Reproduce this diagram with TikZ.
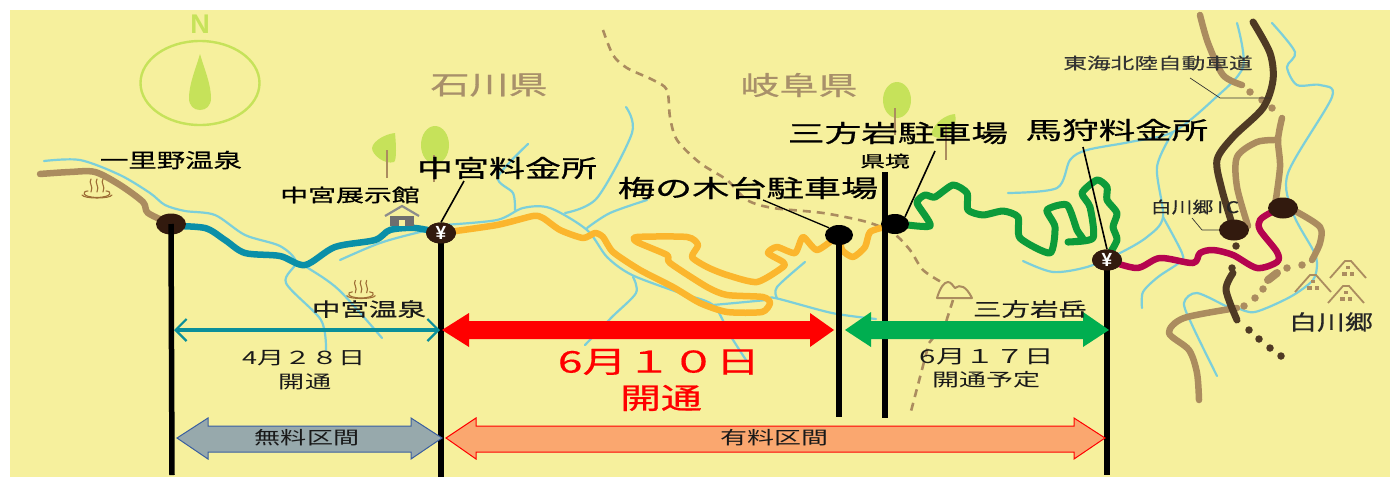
\documentclass[tikz,border=0pt]{standalone}
\usepackage{fontspec}
\setmainfont{Noto Sans CJK JP}
\newfontfamily\latinf{Liberation Sans}
\newfontfamily\medf[FakeBold=0.35]{Noto Sans CJK JP}
\newfontfamily\semif[FakeBold=0.7]{Noto Sans CJK JP}
\usetikzlibrary{arrows.meta,shapes.geometric}
\definecolor{bgy}{HTML}{F6F09D}
\definecolor{leaf}{HTML}{C6E25A}
\definecolor{river}{HTML}{7CCFDA}
\definecolor{lbrown}{HTML}{AB8C5F}
\definecolor{dbrown}{HTML}{4F3A24}
\definecolor{tealr}{HTML}{0A8FA8}
\definecolor{oranger}{HTML}{FBB62D}
\definecolor{greenr}{HTML}{0D9B3A}
\definecolor{crimr}{HTML}{B5044F}
\definecolor{stopc}{HTML}{321A0E}
\definecolor{prefc}{HTML}{A8906A}
\definecolor{tealarrow}{HTML}{0B8F9A}
\definecolor{greena}{HTML}{00AE50}
\definecolor{freef}{HTML}{97A9AC}
\definecolor{freed}{HTML}{3A5FA0}
\definecolor{tollf}{HTML}{FAA76F}
\newcommand{\jt}[3]{\scalebox{#1}[1]{\fontsize{#2}{#2}\selectfont #3}}
\tikzset{
  riverl/.style={draw=river,line width=2.2pt,line cap=round,line join=round},
  road/.style={line width=#1,line cap=round,line join=round},
  road/.default=6.5pt,
  lb/.style={inner sep=0pt,outer sep=0pt,text=black},
  stopn/.style={ellipse,fill=stopc,minimum width=30pt,minimum height=21pt,inner sep=0pt},
  blackn/.style={ellipse,fill=black,minimum width=28pt,minimum height=20pt,inner sep=0pt},
  post/.style={line width=5.5pt,black},
  leader/.style={black,line width=1.6pt},
  thinlead/.style={black!80,line width=0.7pt},
  dotb/.style={circle,inner sep=0pt,minimum size=#1},
  crown/.style={fill=leaf,draw=none},
  trunk/.style={draw=lbrown,line width=1.5pt},
  hs/.style={draw=lbrown!70!orange!80!black,line width=1.1pt,line cap=round,fill=none},
  gassho/.style={draw=lbrown,line width=1.8pt,line join=miter}
}
\newcommand{\onsen}[3]{%
\begin{scope}[shift={(#1,#2)},scale=#3]
 \draw[hs] (-9,3) .. controls (-15,3) and (-16,9) .. (0,9.5) .. controls (16,9) and (15,3) .. (9,3);
 \draw[hs] (-15,7) .. controls (-13,11) and (13,11) .. (15,7);
 \foreach \q in {-6,0,6}{\draw[hs] (\q,-9) .. controls (\q-3,-5) and (\q+3,-2) .. (\q,4);}
\end{scope}}
\newcommand{\gasshohouse}[3]{%
\begin{scope}[shift={(#1,#2)},scale=#3]
 \draw[gassho] (-18,17) -- (-3,0) -- (3,0) -- (18,17);
 \fill[lbrown] (-2,5) rectangle (2,8);
 \fill[lbrown] (-6,11) rectangle (-1.5,15);
 \fill[lbrown] (1.5,11) rectangle (6,15);
\end{scope}}
\begin{document}
\begin{tikzpicture}[x=1pt,y=-1pt]
\useasboundingbox (0,0) rectangle (1390,477);
\fill[white] (0,0) rectangle (1390,477);
\fill[bgy] (10,10) rectangle (1390,477);

% compass
\node[ellipse,draw=leaf,line width=2.4pt,minimum width=119pt,minimum height=84pt,inner sep=0pt] (compass) at (200,83) {};
\fill[leaf] (200,54) .. controls (204,68) and (211,84) .. (211,98) .. controls (211,106) and (206,110) .. (200,110) .. controls (194,110) and (189,106) .. (189,98) .. controls (189,84) and (196,68) .. (200,54) -- cycle;
\node[lb,text=leaf] (north) at (200,24) {\latinf\bfseries\fontsize{27}{27}\selectfont N};

% rivers
\draw[riverl] plot[smooth,tension=.5] coordinates {(44,161)(80,160)(120,175)(150,193)(165,205)(185,211)(215,215)(245,235)(280,246)(296,262)(286,283)(321,320)(326,350)};
\draw[riverl] plot[smooth,tension=.5] coordinates {(296,262)(308,268)(339,290)(382,338)};
\draw[riverl] plot[smooth,tension=.5] coordinates {(340,260)(380,243)(420,232)(441,228)};
\draw[riverl] plot[smooth,tension=.5] coordinates {(443,225)(497,220)(523,208)(550,208)(587,230)(607,257)(632,275)(680,293)(713,305)(730,335)(746,360)};
\draw[riverl] plot[smooth,tension=.5] coordinates {(515,210)(513,193)(498,177)(528,144)};
\draw[riverl] plot[smooth,tension=.5] coordinates {(565,213)(597,198)(632,133)(626,107)};
\draw[riverl] plot[smooth,tension=.5] coordinates {(587,228)(610,213)(647,200)};
\draw[riverl] plot[smooth,tension=.5] coordinates {(633,277)(636,293)(612,317)(585,345)};
\draw[riverl] plot[smooth,tension=.5] coordinates {(713,305)(766,300)(775,298)(832,313)(876,319)};
\draw[riverl] plot[smooth,tension=.5] coordinates {(805,262)(777,287)(777,298)};
\draw[riverl] plot[smooth,tension=.5] coordinates {(1008,193)(1057,188)(1070,160)(1087,150)(1130,142)(1173,132)(1213,100)(1243,67)(1237,23)};
\draw[riverl] plot[smooth,tension=.5] coordinates {(1023,261)(1053,272)(1087,267)(1120,253)(1147,237)(1163,217)(1157,167)(1173,132)};
\draw[riverl] plot[smooth,tension=.5] coordinates {(1163,217)(1182,253)(1180,262)(1158,277)(1143,292)(1142,308)};
\draw[riverl] plot[smooth,tension=.5] coordinates {(1272,23)(1295,52)(1287,67)(1297,85)(1320,85)(1332,97)(1288,173)(1293,213)(1313,250)(1317,263)(1313,280)(1290,297)(1255,312)(1237,308)(1228,307)(1197,293)(1184,303)(1193,327)(1217,376)};

% prefecture border
\draw[lbrown,line width=2.6pt,dash pattern=on 8pt off 6pt] plot[smooth,tension=.5] coordinates {(603,30)(613,55)(627,68)(653,80)(667,90)(670,117)(677,140)(700,163)(727,180)(747,200)(773,208)(823,213)(867,222)(893,233)(910,250)(923,270)(943,283)};
\draw[lbrown,line width=2.6pt,dash pattern=on 8pt off 6pt] (953,300) -- (946,322) -- (929,343) -- (910,415);

% mountain
\draw[lbrown,line width=2pt,line join=round] (937,298) .. controls (940,288) and (944,282) .. (948,282) .. controls (951,282) and (953,286) .. (955,288) .. controls (960,284) and (966,286) .. (972,298) -- cycle;

% light brown roads
\draw[lbrown,road] plot[smooth,tension=.5] coordinates {(40,174)(70,172)(95,172)(120,185)(143,202)(148,213)(171,224)};
\draw[lbrown,road] plot[smooth,tension=.5] coordinates {(1200,15)(1208,43)(1223,75)(1242,85)};
\draw[lbrown,road] plot[smooth,tension=.5] coordinates {(1282,118)(1278,140)(1280,167)(1275,205)};
\draw[lbrown,road] plot[smooth,tension=.5] coordinates {(1278,140)(1257,142)(1237,157)(1237,187)(1248,226)};
\draw[lbrown,road] plot[smooth,tension=.5] coordinates {(1297,212)(1320,227)(1320,243)(1312,260)};
\draw[lbrown,road] plot[smooth,tension=.5] coordinates {(1237,308)(1184,318)(1169,333)(1189,350)(1197,373)(1199,400)};
\draw[lbrown,road=8pt] (1277,273) -- (1268,280);
\foreach \dx/\dy/\dn in {1250/92/a,1262/100/b,1272/108/c,1302/265/d,1287/268/e,1263/289/f,1255/298/g,1244/306/h}{
  \node[dotb=7.5pt,fill=lbrown] (ld\dn) at (\dx,\dy) {};}

% dark highway
\draw[dbrown,road=7pt] plot[smooth,tension=.5] coordinates {(1253,22)(1270,53)(1273,80)(1263,108)(1233,137)(1217,160)(1222,190)(1233,227)};
\draw[dbrown,road=7pt] plot[smooth,tension=.5] coordinates {(1233,273)(1226,290)(1237,320)};
\foreach \dx/\dy/\dn in {1236/246/a,1232/268/b,1249/330/c,1259/339/d,1270/348/e,1281/356/f}{
  \node[dotb=7.5pt,fill=dbrown] (dd\dn) at (\dx,\dy) {};}

% coloured sections
\draw[tealr,road] plot[smooth,tension=.5] coordinates {(171,226)(205,228)(225,240)(245,253)(280,256)(305,265)(335,247)(375,240)(390,230)(415,228)(441,233)};
\draw[oranger,road] plot[smooth,tension=.4] coordinates {(441,233)(497,225)(533,216)(543,218)(560,230)(583,238)(595,233)(603,237)(613,252)(640,270)(673,287)(700,303)(727,312)(762,312)(770,303)(763,297)(727,295)(707,287)(670,263)(667,255)(637,242)(637,237)(687,237)(698,245)(692,257)(707,267)(727,275)(757,282)(783,267)(783,262)(768,253)(777,247)(795,253)(803,237)(817,250)(838,237)(842,250)(853,257)(865,247)(870,232)(885,227)};
\draw[greenr,road=7pt] plot[smooth,tension=.4] coordinates {(893,223)(930,226)(917,203)(925,195)(935,197)(953,185)(967,193)(968,210)(983,215)(1003,211)(1018,217)(1020,238)(1050,253)(1055,227)(1047,210)(1067,205)(1077,230)(1083,240)(1068,242)(1093,238)(1090,207)(1082,193)(1097,180)(1107,187)(1107,200)(1117,213)(1113,227)(1117,240)(1107,258)};
\draw[crimr,road] plot[smooth,tension=.5] coordinates {(1107,260)(1137,268)(1160,258)(1193,263)(1200,253)(1213,250)(1233,255)(1257,268)(1277,262)(1277,252)(1260,230)(1260,220)(1270,213)(1282,208)};

% trees
\draw[crown] (395,133) .. controls (396,143) and (397,160) .. (394,162) .. controls (385,165) and (372,155) .. (372,148) .. controls (373,141) and (385,134) .. (395,133) -- cycle;
\draw[trunk] (387,178) -- (387,150);
\fill[leaf] (435,145) ellipse[x radius=14,y radius=19];
\draw[trunk] (434,182) -- (434,155);
\fill[leaf] (897,100) ellipse[x radius=14,y radius=18];
\draw[trunk] (895,135) -- (895,108);
\draw[crown] (931,134) .. controls (935,122) and (945,115) .. (955,114) .. controls (958,125) and (950,137) .. (942,138) .. controls (937,138) and (933,137) .. (931,134) -- cycle;
\draw[trunk] (946,160) -- (946,125);

% onsen, house, gassho
\onsen{97}{188}{1}
\onsen{361}{289}{.95}
\fill[black!57] (390,216) rectangle (414,226);
\fill[bgy] (399,220) rectangle (405,226);
\draw[black!45,line width=2.2pt] (385,216) -- (402,206) -- (419,216);
\gasshohouse{1348}{261}{1}
\gasshohouse{1313}{275}{1}
\gasshohouse{1346}{286}{1}

% posts
\coordinate (p1b) at (172,475);
\coordinate (p2b) at (441,477);
\coordinate (p3b) at (839,417);
\coordinate (p4t) at (885,172);
\coordinate (p4b) at (885,418);
\coordinate (p5b) at (1107,475);
\node[stopn] (ichirino) at (171,224) {};
\node[stopn] (nakamiya) at (441,233) {};
\node[blackn] (ume) at (839,235) {};
\node[blackn] (sanpo) at (895,224) {};
\node[stopn] (magari) at (1107,260) {};
\node[stopn] (ic) at (1234,230) {};
\node[stopn] (shira) at (1283,208) {};
\draw[post] (ichirino.center) -- (p1b);
\draw[post,line width=6pt] (nakamiya.center) -- (p2b);
\draw[post] (ume.center) -- (p3b);
\draw[post] (p4t) -- (p4b);
\draw[post] (magari.center) -- (p5b);
\fill[stopc] (nakamiya) ellipse[x radius=15,y radius=10.5];
\fill[stopc] (magari) ellipse[x radius=15,y radius=10.5];
\node[lb,text=white] at (nakamiya) {\latinf\bfseries\fontsize{19}{19}\selectfont ¥};
\node[lb,text=white] at (magari) {\latinf\bfseries\fontsize{19}{19}\selectfont ¥};

% leaders
\coordinate (l1) at (464,181);
\coordinate (l2) at (763,200);
\coordinate (l3) at (935,151);
\coordinate (l4) at (1083,147);
\coordinate (l5) at (1190,78);
\coordinate (l5b) at (1220,98);
\coordinate (l5c) at (1270,98);
\coordinate (l6) at (1192,218);
\coordinate (l6b) at (1202,230);
\draw[leader] (l1) -- (nakamiya.north);
\draw[leader,line width=1.3pt] (l2) -- (ume.north west);
\draw[leader] (l3) -- (sanpo.north east);
\draw[leader] (l4) -- (magari.north);
\draw[thinlead] (l5) -- (l5b) -- (l5c);
\draw[thinlead] (l6) -- (l6b) -- (ic.west);

% span arrows
\coordinate (ta) at (174,330);
\coordinate (tb) at (440,330);
\draw[tealarrow,line width=4.5pt,{Straight Barb[length=11pt,width=22pt,line width=2.2pt]}-{Straight Barb[length=11pt,width=22pt,line width=2.2pt]}] (ta) -- (tb);
\fill[red] (442,330) -- (469,313) -- (469,321) -- (810,321) -- (810,313) -- (834,330) -- (810,347) -- (810,339) -- (469,339) -- (469,347) -- cycle;
\fill[greena] (845,330) -- (871,312) -- (871,321) -- (1083,321) -- (1083,312) -- (1109,330) -- (1083,347) -- (1083,339) -- (871,339) -- (871,347) -- cycle;
\filldraw[fill=freef,draw=freed,line width=1pt] (177,438) -- (208,418) -- (208,426) -- (411,426) -- (411,418) -- (442,438) -- (411,459) -- (411,452) -- (208,452) -- (208,459) -- cycle;
\filldraw[fill=tollf,draw=red,line width=1pt] (446,438) -- (476,418) -- (476,426) -- (1074,426) -- (1074,418) -- (1105,438) -- (1074,459) -- (1074,452) -- (476,452) -- (476,459) -- cycle;

% labels
\node[lb] (t1) at (171,160) {\jt{1.42}{20}{\medf 一里野温泉}};
\node[lb] (t2) at (350,195) {\jt{1.55}{18}{\semif 中宮展示館}};
\node[lb] (t3) at (507,168) {\jt{1.5}{24}{\semif 中宮料金所}};
\node[lb,text=prefc] (t4) at (489,85) {\jt{1.5}{26}{\semif 石川県}};
\node[lb,text=prefc] (t5) at (799,85) {\jt{1.5}{26}{\semif 岐阜県}};
\node[lb] (t6) at (898,133) {\jt{1.53}{24}{\semif 三方岩駐車場}};
\node[lb] (t7) at (885,161) {\jt{1.55}{16}{\semif 県境}};
\node[lb] (t8) at (748,188) {\jt{1.55}{24}{\semif 梅の木台駐車場}};
\node[lb] (t9) at (1117,130) {\jt{1.52}{24}{\semif 馬狩料金所}};
\node[lb,text=black!80] (t10) at (1158,63) {\jt{1.48}{16}{\medf 東海北陸自動車道}};
\node[lb,text=black!85] (t11) at (1195,207) {\jt{1.3}{16}{\medf 白川郷\hspace{3pt}I\hspace{2pt}C}};
\node[lb,text=black!85] (t12) at (1331,322) {\jt{1.33}{21}{\medf 白川郷}};
\node[lb,text=black!90] (t13) at (1030,309) {\jt{1.5}{19}{\medf 三方岩岳}};
\node[lb,text=black!90] (t14) at (369,309) {\jt{1.5}{19}{\medf 中宮温泉}};
\node[lb,text=black!90] (t15) at (304,358) {\jt{1.5}{18}{4月２８日}};
\node[lb,text=black!90] (t16) at (305,382) {\jt{1.45}{18}{開通}};
\node[lb,text=red] (t17) at (659,362) {\jt{1.48}{30}{\medf 6月１０日}};
\node[lb,text=red] (t18) at (661,398) {\jt{1.41}{29}{\semif 開通}};
\node[lb,text=black!90] (t19) at (987,357) {\jt{1.55}{19}{6月１７日}};
\node[lb,text=black!90] (t20) at (986,380) {\jt{1.5}{18}{開通予定}};
\node[lb,text=black!90] (t21) at (307,438) {\jt{1.45}{18}{無料区間}};
\node[lb,text=black!90] (t22) at (774,438) {\jt{1.5}{18}{有料区間}};
\end{tikzpicture}
\end{document}
